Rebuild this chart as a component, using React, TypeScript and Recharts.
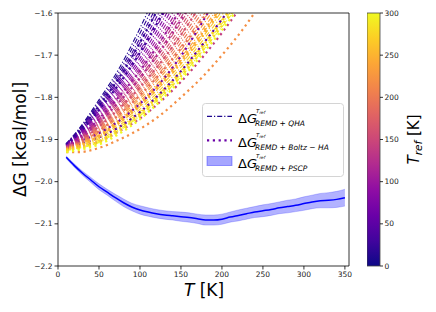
import React from 'react';
import {
  ComposedChart,
  Line,
  Area,
  XAxis,
  YAxis,
  ReferenceLine,
  Legend,
  Label,
  BarChart,
  Bar,
} from 'recharts';

// temperatures where the reference curves were read
const curveTemps = [10, 25, 50, 75, 100, 125, 150, 175, 200, 225, 250];

// REMD + QHA, one curve per T_ref
const qhaRefs = [
  10, 20, 30, 40, 50, 60, 70, 80, 90, 100, 110, 120, 130, 140, 150, 160, 170, 180, 190,
  200, 210, 220, 230, 240, 250, 260, 270, 280, 290, 300,
];
const qhaCurves = [
  [-1.91, -1.876, -1.806, -1.73, -1.636, -1.53],
  [-1.911, -1.878, -1.811, -1.738, -1.648, -1.548],
  [-1.911, -1.88, -1.815, -1.745, -1.66, -1.565, -1.46],
  [-1.912, -1.882, -1.82, -1.752, -1.67, -1.579, -1.475],
  [-1.912, -1.884, -1.824, -1.758, -1.68, -1.592, -1.49],
  [-1.913, -1.886, -1.828, -1.764, -1.689, -1.604, -1.505],
  [-1.913, -1.888, -1.832, -1.77, -1.698, -1.616, -1.52],
  [-1.914, -1.89, -1.836, -1.776, -1.707, -1.627, -1.535],
  [-1.914, -1.892, -1.84, -1.782, -1.715, -1.638, -1.55, -1.45],
  [-1.915, -1.894, -1.844, -1.787, -1.723, -1.648, -1.564, -1.47],
  [-1.915, -1.895, -1.847, -1.792, -1.73, -1.658, -1.578, -1.49],
  [-1.916, -1.897, -1.851, -1.797, -1.737, -1.667, -1.589, -1.503],
  [-1.916, -1.898, -1.854, -1.802, -1.744, -1.676, -1.6, -1.515],
  [-1.917, -1.9, -1.857, -1.807, -1.751, -1.685, -1.611, -1.528],
  [-1.917, -1.901, -1.86, -1.812, -1.757, -1.693, -1.622, -1.54],
  [-1.918, -1.903, -1.863, -1.817, -1.764, -1.702, -1.632, -1.553],
  [-1.918, -1.904, -1.866, -1.822, -1.77, -1.71, -1.642, -1.565],
  [-1.919, -1.906, -1.869, -1.826, -1.776, -1.718, -1.652, -1.578],
  [-1.919, -1.907, -1.872, -1.83, -1.781, -1.725, -1.661, -1.59, -1.51],
  [-1.92, -1.908, -1.875, -1.834, -1.787, -1.732, -1.67, -1.601, -1.525],
  [-1.92, -1.909, -1.878, -1.838, -1.792, -1.739, -1.679, -1.612, -1.54],
  [-1.921, -1.91, -1.881, -1.842, -1.798, -1.746, -1.688, -1.623, -1.552],
  [-1.921, -1.911, -1.884, -1.846, -1.803, -1.752, -1.696, -1.633, -1.563],
  [-1.922, -1.912, -1.888, -1.851, -1.809, -1.76, -1.705, -1.643, -1.574],
  [-1.922, -1.913, -1.891, -1.856, -1.815, -1.767, -1.713, -1.652, -1.585, -1.51],
  [-1.923, -1.915, -1.895, -1.861, -1.822, -1.774, -1.721, -1.661, -1.595, -1.522],
  [-1.923, -1.916, -1.898, -1.866, -1.828, -1.781, -1.729, -1.669, -1.605, -1.535],
  [-1.924, -1.918, -1.902, -1.871, -1.834, -1.788, -1.737, -1.678, -1.615, -1.548],
  [-1.925, -1.92, -1.905, -1.876, -1.84, -1.795, -1.745, -1.686, -1.625, -1.56],
  [-1.926, -1.921, -1.907, -1.879, -1.844, -1.8, -1.751, -1.693, -1.633, -1.57],
];

// REMD + Boltz-HA
const boltzRefs = [20, 30, 50, 70, 100, 120, 140, 160, 190, 220, 240, 250, 270, 280, 300];
const boltzCurves = [
  [-1.912, -1.882, -1.82, -1.752, -1.67, -1.578, -1.475],
  [-1.913, -1.887, -1.83, -1.767, -1.694, -1.61, -1.515],
  [-1.92, -1.912, -1.895, -1.87, -1.835, -1.79, -1.738, -1.678, -1.615, -1.545],
  [-1.915, -1.905, -1.885, -1.855, -1.815, -1.765, -1.702, -1.625, -1.54],
  [-1.916, -1.897, -1.851, -1.797, -1.737, -1.667, -1.589, -1.5],
  [-1.917, -1.901, -1.859, -1.81, -1.754, -1.689, -1.616, -1.534],
  [-1.925, -1.918, -1.905, -1.88, -1.85, -1.81, -1.763, -1.708, -1.647, -1.58],
  [-1.919, -1.906, -1.869, -1.826, -1.776, -1.718, -1.652, -1.578],
  [-1.921, -1.91, -1.88, -1.84, -1.795, -1.743, -1.684, -1.618, -1.545],
  [-1.93, -1.93, -1.92, -1.9, -1.875, -1.842, -1.8, -1.754, -1.7, -1.64, -1.57],
  [-1.923, -1.914, -1.891, -1.855, -1.814, -1.766, -1.711, -1.65, -1.582],
  [-1.924, -1.916, -1.894, -1.86, -1.82, -1.772, -1.718, -1.657, -1.59],
  [-1.926, -1.92, -1.904, -1.874, -1.838, -1.792, -1.741, -1.682, -1.619, -1.55],
  [-1.927, -1.922, -1.908, -1.88, -1.845, -1.8, -1.75, -1.692, -1.63, -1.565],
  [-1.93, -1.925, -1.912, -1.886, -1.852, -1.808, -1.758, -1.7, -1.64, -1.575],
];

// REMD + PSCP, mean and half width of the band
const pscpTemps = [
  10, 20, 30, 40, 50, 60, 70, 80, 90, 100, 110, 120, 130, 140, 150, 160, 170, 180,
  190, 200, 210, 220, 230, 240, 250, 260, 270, 280, 290, 300, 310, 320, 330, 340, 350,
];
const pscpMean = [
  -1.942, -1.962, -1.98, -1.996, -2.012, -2.025, -2.038, -2.05, -2.06, -2.067, -2.072,
  -2.076, -2.079, -2.081, -2.083, -2.085, -2.088, -2.091, -2.091, -2.089, -2.084, -2.08,
  -2.076, -2.072, -2.069, -2.066, -2.062, -2.059, -2.056, -2.052, -2.048, -2.045, -2.044,
  -2.042, -2.038,
];
const pscpErr = [
  0.003, 0.004, 0.005, 0.006, 0.007, 0.007, 0.008, 0.009, 0.009, 0.01, 0.01, 0.01, 0.01,
  0.01, 0.011, 0.011, 0.011, 0.012, 0.012, 0.012, 0.012, 0.013, 0.013, 0.013, 0.014, 0.014,
  0.014, 0.015, 0.015, 0.016, 0.016, 0.017, 0.018, 0.019, 0.02,
];

const xTicks = [0, 50, 100, 150, 200, 250, 300, 350];
const yTicks = [-2.2, -2.1, -2.0, -1.9, -1.8, -1.7, -1.6];
const cbTicks = [0, 50, 100, 150, 200, 250, 300];

const plasmaStops = [
  '#0d0887', '#41049d', '#6a00a8', '#8f0da4', '#b12a90', '#cc4778',
  '#e16462', '#f2844b', '#fca636', '#fcce25', '#f0f921',
];

function plasma(t: number): string {
  const n = plasmaStops.length - 1;
  const x = Math.min(Math.max(t, 0), 1) * n;
  const i = Math.min(Math.floor(x), n - 1);
  const f = x - i;
  const a = plasmaStops[i];
  const b = plasmaStops[i + 1];
  const ch = (h: string, k: number) => parseInt(h.slice(1 + 2 * k, 3 + 2 * k), 16);
  const c = [0, 1, 2].map((k) => Math.round(ch(a, k) + (ch(b, k) - ch(a, k)) * f));
  return `rgb(${c[0]},${c[1]},${c[2]})`;
}

const toPoints = (vals: number[]) => vals.map((v, i) => ({ T: curveTemps[i], v }));

const pscpData = pscpTemps.map((T, i) => ({
  T,
  mean: pscpMean[i],
  band: [pscpMean[i] - pscpErr[i], pscpMean[i] + pscpErr[i]],
}));

const font = 'DejaVu Sans, sans-serif';
const tickStyle = { fontSize: 7.5, fill: '#222', fontFamily: font };
const minus = (v: number, d: number) => (v < 0 ? '\u2212' : '') + Math.abs(v).toFixed(d);

const QHA_DASH = '5 2 1.2 2';
const BOLTZ_DASH = '2.2 3.6';

function DeltaG({ x, y, sub }: { x: number; y: number; sub: string }) {
  return (
    <g fontFamily={font} fill='#000'>
      <text x={x} y={y + 6.5} fontSize={13}>
        {'\u0394'}
        <tspan fontStyle='italic'>G</tspan>
      </text>
      <text x={x + 18} y={y - 3.2} fontSize={5.5} fontStyle='italic'>
        T<tspan fontSize={4.2} dy={1.2}>ref</tspan>
      </text>
      <text x={x + 17} y={y + 9.5} fontSize={7.5} fontStyle='italic'>
        {sub}
      </text>
    </g>
  );
}

function renderLegend() {
  return (
    <svg width={142} height={74} style={{ display: 'block' }}>
      <rect x={0.5} y={0.5} width={141} height={73} rx={3} fill='rgba(255,255,255,0.85)' stroke='#d4d4d4' />
      <line x1={5} x2={30} y1={13.3} y2={13.3} stroke={plasma(qhaRefs[0] / 300)} strokeWidth={1.2} strokeDasharray={QHA_DASH} />
      <DeltaG x={36} y={13.3} sub='REMD + QHA' />
      <line x1={5} x2={30} y1={37.3} y2={37.3} stroke='#6a00a8' strokeWidth={2.2} strokeDasharray={BOLTZ_DASH} />
      <DeltaG x={36} y={37.3} sub={'REMD + Boltz \u2212 HA'} />
      <rect x={5} y={53.5} width={25} height={9} fill='rgba(0,0,255,0.35)' stroke='rgba(0,0,255,0.35)' />
      <DeltaG x={36} y={58} sub='REMD + PSCP' />
    </svg>
  );
}

export default function App() {
  return (
    <div style={{ position: 'absolute', left: 0, top: 0, width: 436, height: 312, background: '#fff', fontFamily: font }}>
      <div style={{ position: 'absolute', left: 0, top: 0 }}>
        <ComposedChart width={436} height={312} margin={{ top: 13, right: 87, bottom: 16, left: 18 }}>
          <XAxis
            type='number'
            dataKey='T'
            domain={[0, 355]}
            ticks={xTicks}
            allowDataOverflow
            tick={tickStyle}
            tickSize={3.5}
            height={30}
            axisLine={{ stroke: '#000', strokeWidth: 0.8 }}
            tickLine={{ stroke: '#000', strokeWidth: 0.8 }}
          >
            <Label
              content={() => (
                <text x={204} y={296} textAnchor='middle' fontSize={17} fontFamily={font} fill='#000'>
                  <tspan fontStyle='italic'>T</tspan> [K]
                </text>
              )}
            />
          </XAxis>
          <YAxis
            type='number'
            domain={[-2.2, -1.6]}
            ticks={yTicks}
            allowDataOverflow
            tick={tickStyle}
            tickFormatter={(v: number) => minus(v, 1)}
            tickSize={3.5}
            width={40}
            axisLine={{ stroke: '#000', strokeWidth: 0.8 }}
            tickLine={{ stroke: '#000', strokeWidth: 0.8 }}
          >
            <Label
              content={() => (
                <text transform='translate(25.5,139.5) rotate(-90)' textAnchor='middle' fontSize={17} fontFamily={font} fill='#000'>
                  {'\u0394G [kcal/mol]'}
                </text>
              )}
            />
          </YAxis>

          <Area
            data={pscpData}
            dataKey='band'
            type='monotone'
            fill='#0000ff'
            fillOpacity={0.3}
            stroke='#0000ff'
            strokeOpacity={0.25}
            strokeWidth={0.8}
            isAnimationActive={false}
          />
          <Line
            data={pscpData}
            dataKey='mean'
            type='monotone'
            stroke='#0000ff'
            strokeWidth={1.5}
            dot={false}
            isAnimationActive={false}
          />

          {qhaCurves.map((vals, i) => (
            <Line
              key={`qha-${qhaRefs[i]}`}
              data={toPoints(vals)}
              dataKey='v'
              type='monotone'
              stroke={plasma(qhaRefs[i] / 300)}
              strokeWidth={1.1}
              strokeDasharray={QHA_DASH}
              dot={false}
              isAnimationActive={false}
            />
          ))}
          {boltzCurves.map((vals, i) => (
            <Line
              key={`boltz-${boltzRefs[i]}`}
              data={toPoints(vals)}
              dataKey='v'
              type='monotone'
              stroke={plasma(boltzRefs[i] / 300)}
              strokeWidth={2.2}
              strokeDasharray={BOLTZ_DASH}
              dot={false}
              isAnimationActive={false}
            />
          ))}

          <ReferenceLine y={-1.6} stroke='#000' strokeWidth={0.8} />
          <ReferenceLine x={355} stroke='#000' strokeWidth={0.8} />

          <Legend
            layout='vertical'
            align='center'
            verticalAlign='middle'
            content={renderLegend}
            wrapperStyle={{ left: 202, top: 103, width: 142, height: 74, bottom: 'auto' }}
          />
        </ComposedChart>
      </div>

      {/* colour bar for T_ref */}
      <div style={{ position: 'absolute', left: 367, top: 0 }}>
        <BarChart
          width={62}
          height={312}
          data={[{ name: 'cb', v: 300 }]}
          margin={{ top: 13, right: 0, bottom: 46, left: 0 }}
          barCategoryGap={0}
        >
          <defs>
            <linearGradient id='plasmaBar' x1='0' y1='1' x2='0' y2='0'>
              {plasmaStops.map((c, i) => (
                <stop key={c} offset={i / (plasmaStops.length - 1)} stopColor={c} />
              ))}
            </linearGradient>
          </defs>
          <XAxis dataKey='name' hide />
          <YAxis
            orientation='right'
            type='number'
            domain={[0, 300]}
            ticks={cbTicks}
            width={49}
            tick={tickStyle}
            tickSize={3}
            tickMargin={1.5}
            axisLine={false}
            tickLine={{ stroke: '#000', strokeWidth: 0.8 }}
          >
            <Label
              content={() => (
                <text transform='translate(52,139.5) rotate(-90)' textAnchor='middle' fontSize={15} fontFamily={font} fill='#000'>
                  <tspan fontStyle='italic'>T</tspan>
                  <tspan fontStyle='italic' fontSize={10.5} dy={3}>ref</tspan>
                  <tspan dy={-3}> [K]</tspan>
                </text>
              )}
            />
          </YAxis>
          <Bar dataKey='v' fill='url(#plasmaBar)' stroke='#444' strokeWidth={0.8} isAnimationActive={false} />
        </BarChart>
      </div>
    </div>
  );
}
